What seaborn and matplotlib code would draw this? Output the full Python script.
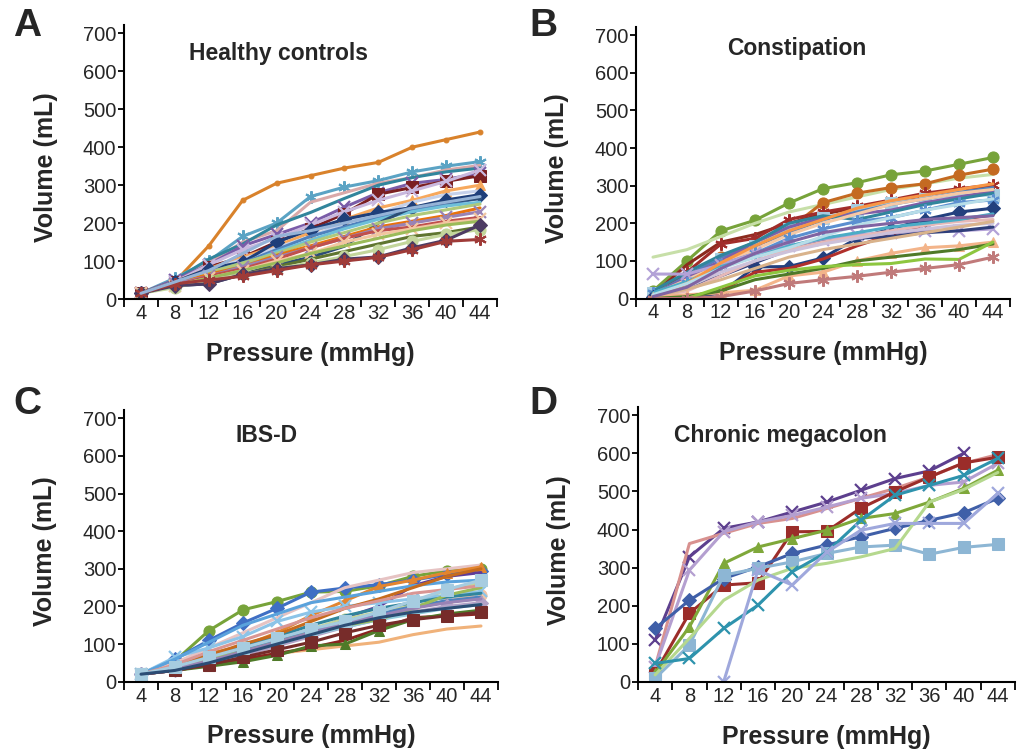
import numpy as np
import pandas as pd
import matplotlib
matplotlib.use("Agg")
import matplotlib.pyplot as plt
import seaborn as sns

sns.set_style("white")
plt.rcParams['font.family'] = ['Liberation Sans', 'DejaVu Sans']

pressures = [4, 8, 12, 16, 20, 24, 28, 32, 36, 40, 44]
y_ticks = [0, 100, 200, 300, 400, 500, 600, 700]
NA = np.nan

# ---------------- Panel A: Healthy controls ----------------
A_values = [
    [15, 45, 140, 260, 305, 325, 345, 360, 400, 420, 440],
    [15, 55, 100, 165, 200, 270, 295, 312, 335, 350, 362],
    [15, 50, 95, 150, 180, 255, 280, 305, 320, 340, 352],
    [15, 50, 105, 145, 195, 228, 265, 300, 320, 335, 345],
    [15, 50, 90, 140, 170, 200, 242, 280, 305, 315, 332],
    [15, 45, 85, 110, 150, 185, 225, 276, 294, 310, 325],
    [15, 45, 90, 130, 160, 195, 230, 260, 285, 310, 340],
    [15, 45, 80, 110, 140, 175, 210, 240, 260, 285, 300],
    [15, 40, 75, 105, 135, 165, 200, 225, 255, 275, 285],
    [15, 45, 80, 97, 150, 183, 210, 228, 241, 261, 275],
    [15, 40, 70, 95, 130, 165, 190, 215, 235, 250, 265],
    [15, 35, 65, 90, 125, 155, 185, 210, 230, 245, 255],
    [15, 35, 40, 65, 90, 110, 139, 200, 241, 255, 265],
    [15, 40, 70, 95, 120, 150, 175, 200, 220, 235, 250],
    [15, 40, 65, 85, 115, 140, 165, 190, 205, 220, 240],
    [15, 40, 60, 85, 110, 135, 160, 185, 200, 215, 230],
    [15, 35, 60, 80, 105, 135, 160, 180, 190, 205, 215],
    [15, 35, 55, 75, 100, 120, 150, 170, 185, 200, 210],
    [15, 35, 55, 75, 95, 120, 140, 160, 180, 195, 205],
    [15, 35, 50, 65, 85, 105, 125, 145, 165, 175, 190],
    [15, 30, 50, 65, 80, 95, 112, 130, 152, 170, 183],
    [15, 35, 40, 65, 80, 90, 105, 111, 135, 155, 195],
    [15, 40, 50, 60, 75, 90, 100, 110, 130, 152, 157],
    [15, 45, 75, 120, 165, 180, 200, 220, 240, 255, 270],
]
A_colors = ['#D9822B', '#5BA3C4', '#D9A9A9', '#31859C', '#7A5CA8', '#7B1F22',
            '#C9B8DE', '#F7A85C', '#C5D1EB', '#1F3F7A', '#4F81BD', '#6FC0D8',
            '#2C4D75', '#AFC97A', '#E9720D', '#9983B5', '#C0504D', '#F2C6A0',
            '#9BBB59', '#5F7530', '#C3D69B', '#4D3B62', '#9F3B38', '#95B3D7']
A_markers = ['.', 'ast', '', '', 'x', 's', 'x', '^', '', 'D', '', '',
             '', '', '', 'x', '', 'x', '', '', 'o', 'D', 'ast', '']

# ---------------- Panel B: Constipation ----------------
B_values = [
    [20, 100, 180, 208, 254, 292, 308, 329, 339, 357, 375],
    [110, 130, 165, 200, 230, 250, 270, 290, 305, 320, 330],
    [10, 60, 110, 150, 185, 255, 280, 295, 305, 328, 344],
    [10, 90, 150, 170, 200, 225, 240, 255, 275, 290, 300],
    [5, 70, 145, 160, 210, 230, 245, 262, 280, 292, 302],
    [15, 50, 105, 140, 185, 215, 235, 255, 265, 275, 275],
    [10, 60, 110, 140, 175, 210, 230, 250, 265, 282, 295],
    [10, 55, 100, 150, 190, 215, 225, 235, 255, 270, 285],
    [20, 70, 115, 150, 200, 220, 210, 230, 250, 265, 280],
    [10, 50, 90, 130, 170, 200, 225, 250, 265, 280, 290],
    [15, 40, 90, 120, 160, 185, 205, 215, 235, 255, 262],
    [5, 0, 15, 84, 85, 108, 160, 185, 210, 230, 240],
    [5, 5, 20, 70, 80, 105, 140, 170, 195, 210, 222],
    [65, 65, 90, 120, 140, 155, 170, 175, 180, 180, 185],
    [10, 30, 60, 95, 130, 150, 160, 165, 175, 180, 190],
    [5, 20, 60, 100, 130, 150, 165, 180, 195, 205, 210],
    [10, 30, 70, 100, 125, 145, 160, 175, 185, 195, 200],
    [15, 45, 85, 110, 140, 160, 175, 190, 200, 210, 225],
    [5, 25, 50, 80, 110, 130, 145, 160, 175, 190, 205],
    [5, 10, 15, 22, 60, 70, 100, 120, 135, 140, 150],
    [0, 5, 20, 50, 65, 80, 100, 110, 120, 130, 145],
    [0, 0, 30, 60, 75, 85, 90, 93, 105, 104, 150],
    [0, 0, 5, 20, 40, 50, 59, 70, 80, 90, 110],
    [5, 40, 95, 140, 180, 210, 240, 260, 275, 290, 305],
    [10, 40, 80, 110, 135, 165, 195, 215, 235, 250, 265],
    [5, 30, 80, 120, 150, 175, 190, 200, 210, 215, 220],
]
B_colors = ['#77A33A', '#C7DFA8', '#C46A21', '#8B2B1E', '#A12D2A', '#A6CCE0',
            '#4F81BD', '#7F5FA8', '#31859C', '#F5C9A6', '#5B8FD0', '#23407E',
            '#B0302B', '#B3A2D7', '#2F3E7A', '#E6B9B8', '#CCC1DA', '#4BACC6',
            '#D9B38C', '#F3B48A', '#4F7A28', '#8DC63F', '#C07A7A', '#F79646',
            '#B7DDE8', '#8064A2']
B_markers = ['o', '', 'o', '', 'ast', 's', '', '', '', '', 'ast', 'D',
             '', 'x', '', '', '', '', '', '^', '', '', 'ast', '', '', '']

# ---------------- Panel C: IBS-D ----------------
C_values = [
    [20, 55, 136, 191, 213, 238, 240, 255, 280, 295, 300],
    [20, 60, 110, 156, 195, 238, 249, 258, 270, 285, 295],
    [20, 50, 90, 130, 170, 210, 250, 270, 290, 300, 310],
    [20, 40, 75, 95, 130, 176, 215, 253, 270, 290, 305],
    [20, 30, 45, 60, 75, 85, 95, 105, 125, 140, 148],
    [20, 30, 45, 60, 75, 90, 110, 140, 170, 175, 180],
    [20, 30, 41, 53, 70, 95, 100, 136, 165, 180, 190],
    [20, 30, 50, 75, 110, 130, 170, 200, 255, 280, 290],
    [20, 35, 60, 90, 115, 140, 167, 185, 205, 246, 264],
    [20, 40, 65, 101, 115, 135, 155, 175, 195, 215, 230],
    [20, 65, 90, 120, 160, 185, 200, 210, 220, 230, 240],
    [20, 60, 105, 150, 180, 210, 225, 240, 255, 265, 270],
    [20, 40, 70, 95, 120, 150, 175, 195, 210, 225, 235],
    [20, 35, 60, 85, 110, 135, 160, 180, 200, 215, 225],
    [20, 30, 50, 70, 95, 120, 145, 165, 185, 200, 210],
    [20, 35, 55, 80, 100, 125, 145, 165, 180, 195, 205],
    [20, 35, 60, 80, 105, 130, 150, 165, 195, 230, 250],
    [20, 30, 45, 65, 85, 105, 130, 150, 165, 175, 185],
    [20, 40, 70, 100, 125, 160, 195, 220, 250, 280, 300],
    [20, 35, 55, 80, 105, 130, 155, 175, 195, 210, 220],
    [20, 45, 80, 110, 140, 170, 195, 215, 235, 245, 255],
    [20, 40, 65, 90, 115, 140, 160, 185, 215, 245, 270],
    [20, 30, 50, 75, 100, 125, 150, 170, 185, 195, 205],
]
C_colors = ['#77A33A', '#3F6FC4', '#E6C3C3', '#E2852F', '#F0B27A', '#8B2320',
            '#4F7A28', '#5E3C99', '#C3D69B', '#F2C4A5', '#8CC4E8', '#5AA2DC',
            '#31859C', '#4F81BD', '#B3A2C7', '#93CDDD', '#9BBB59', '#772C2A',
            '#C66B1D', '#9983B5', '#D99694', '#A6CCE0', '#2C4D75']
C_markers = ['o', 'D', '', '^', '', '', '^', '', 'o', 'o', 'x', '',
             '', '', 'D', '', '', 's', '', '', '', 's', '']

# ---------------- Panel D: Chronic megacolon ----------------
D_values = [
    [109, 328, 403, 420, 446, 472, 503, 534, 554, 600, NA],
    [39, 363, 390, 416, 429, 455, 482, 508, 538, 574, 597],
    [39, 293, 394, 420, 437, 459, 482, 495, 516, 525, 574],
    [23, 180, 254, 260, 394, 395, 456, 499, 538, 575, 590],
    [23, 144, 311, 354, 376, 398, 429, 442, 472, 508, 556],
    [140, 214, 271, 302, 337, 359, 381, 403, 424, 444, 482],
    [9, 96, 280, 298, 315, 337, 354, 359, 335, 353, 361],
    [18, 114, 214, 267, 298, 311, 328, 350, 472, 505, 550],
    [48, 61, 140, 201, 289, 340, 424, 490, 516, 542, 587],
    [NA, NA, 0, 293, 254, 340, 398, 416, 416, 416, 495],
]
D_colors = ['#5D3F8E', '#D8918F', '#B49FD0', '#9B2D2A', '#7FA83A', '#3F5FA8',
            '#8DB6D4', '#B5D88E', '#2E93AD', '#9FA8DC']
D_markers = ['x', '', 'x', 's', '^', 'D', 's', '', 'x', 'x']

panels = [
    ('A', 'Healthy controls', A_values, A_colors, A_markers,
     [124, 25, 497, 299], (0.413, 0.895)),
    ('B', 'Constipation', B_values, B_colors, B_markers,
     [636, 27, 1010, 298.5], (0.43, 0.92)),
    ('C', 'IBS-D', C_values, C_colors, C_markers,
     [124, 410, 498, 681.7], (0.382, 0.905)),
    ('D', 'Chronic megacolon', D_values, D_colors, D_markers,
     [638, 407, 1015, 681.7], (0.379, 0.895)),
]

W, H = 1021, 750
fig = plt.figure(figsize=(W / 100, H / 100), dpi=100)

for letter, title, values, colors, markers, box, tpos in panels:
    l, t, r, b = box
    ax = fig.add_axes([l / W, 1 - b / H, (r - l) / W, (b - t) / H])
    for vals, col, mk in zip(values, colors, markers):
        df = pd.DataFrame({'Pressure': pressures, 'Volume': vals}).dropna()
        kw = dict(color=col, linewidth=2.2, ax=ax, estimator=None, sort=False,
                  legend=False)
        if mk == 'ast':
            kw.update(marker=(6, 2, 0), markersize=9, markeredgewidth=1.5,
                      markeredgecolor=col)
        elif mk == 'x':
            kw.update(marker='x', markersize=8, markeredgewidth=1.6,
                      markeredgecolor=col)
        elif mk == '.':
            kw.update(marker='o', markersize=3.5, markeredgecolor=col)
        elif mk:
            kw.update(marker=mk, markersize=8 if mk in ('s', 'o') else 7,
                      markeredgecolor=col)
        sns.lineplot(data=df, x='Pressure', y='Volume', **kw)

    ax.set_xlim(2, 46)
    ax.set_ylim(0, 722)
    ax.set_xticks([p - 2 for p in pressures] + [46])
    ax.set_xticklabels([])
    ax.set_xticks(pressures, minor=True)
    ax.set_xticklabels([str(p) for p in pressures], minor=True)
    ax.set_yticks(y_ticks)
    ax.set_yticklabels([str(v) for v in y_ticks])
    ax.tick_params(axis='x', which='major', direction='out', length=5.5,
                   width=1.3, color='black', bottom=True)
    ax.tick_params(axis='x', which='minor', length=0, pad=3.5,
                   labelsize=14.5, bottom=True)
    ax.tick_params(axis='y', direction='out', length=4.5, width=1.3,
                   color='black', pad=1, labelsize=14.5, left=True)
    for s in ['top', 'right']:
        ax.spines[s].set_visible(False)
    for s in ['left', 'bottom']:
        ax.spines[s].set_color('black')
        ax.spines[s].set_linewidth(1.5)
    ax.set_facecolor('white')

    ax.set_xlabel('Pressure (mmHg)', fontsize=18, fontweight='bold')
    ax.set_ylabel('Volume (mL)', fontsize=18, fontweight='bold')
    ax.xaxis.set_label_coords(0.5, -0.2)
    ax.xaxis.label.set_va('center')
    ax.yaxis.set_label_coords(-0.21, 0.48)
    ax.yaxis.label.set_va('center')

    ax.text(tpos[0], tpos[1], title, transform=ax.transAxes, ha='center',
            va='center', fontsize=16.5, fontweight='bold')

    lx = 27 if letter in 'AC' else 543
    ly = 26 if letter in 'AB' else 404
    fig.text(lx / W, 1 - ly / H, letter, ha='center', va='center',
             fontsize=28, fontweight='bold')

fig.savefig('out.png', dpi=100, facecolor='white')
